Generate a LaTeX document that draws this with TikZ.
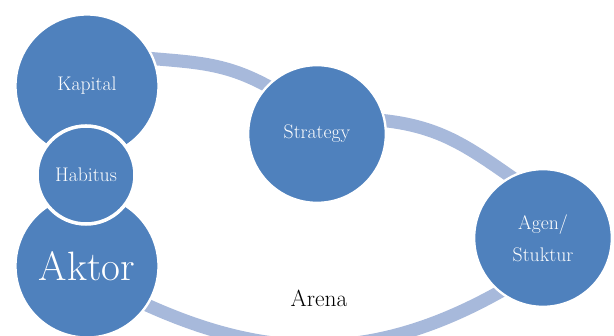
\documentclass[tikz,border=0pt]{standalone}
\usepackage{fontspec}
\usepackage{tikz}
\usetikzlibrary{backgrounds}
\definecolor{ballblue}{RGB}{79,129,189}
\definecolor{bandblue}{RGB}{167,185,219}

\begin{document}
\begin{tikzpicture}[x=0.03cm, y=0.03cm,
  ball/.style={circle, fill=ballblue, draw=white, line width=2pt, text=white,
    inner sep=0pt, align=center, font=\fontsize{16.8}{27}\selectfont},
  big/.style={minimum size=4.29cm},
  mid/.style={minimum size=4.13cm},
  small/.style={minimum size=2.94cm, line width=3pt},
  band/.style={draw=bandblue, line width=0.39cm, shorten <=-8pt, shorten >=-8pt}
]
\useasboundingbox (0,0) rectangle (614,336);
\node[ball, big] (kapital) at (87,250) {Kapital};
\node[ball, big, font=\fontsize{35}{40}\selectfont] (aktor) at (87,70) {Aktor};
\node[ball, small] (habitus) at (86,161) {Habitus};
\node[ball, mid] (strategy) at (317,202) {Strategy};
\node[ball, mid] (agen) at (543,98) {Agen/\\Stuktur};
\node[font=\fontsize{20}{24}\selectfont] (arena) at (319,38) {Arena};

% the arena ring
\begin{scope}[on background layer]
  \draw[band] (kapital.22) to[out=-5, in=150] (strategy.136);
  \draw[band] (strategy.11) to[out=-5, in=145] (agen.118);
  \draw[band] (aktor.-33) to[out=-25, in=-150] (agen.-129);
\end{scope}
\end{tikzpicture}
\end{document}
